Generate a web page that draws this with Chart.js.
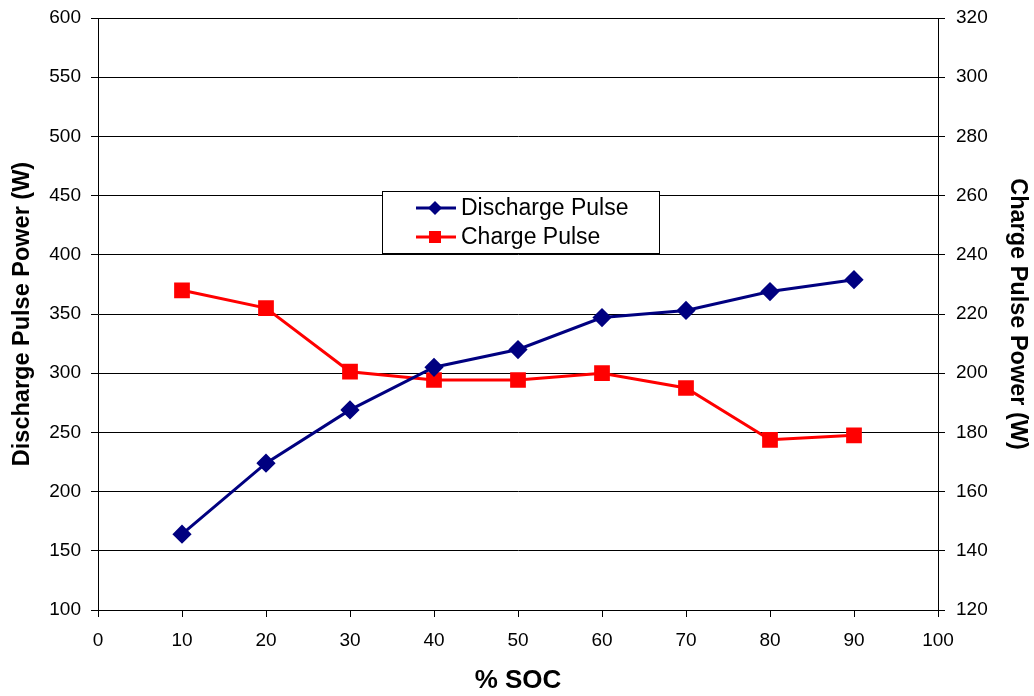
<!DOCTYPE html>
<html>
<head>
<meta charset="utf-8">
<script src="https://cdn.jsdelivr.net/npm/chart.js@4/dist/chart.umd.min.js"></script>
<style>
  html, body { margin: 0; padding: 0; background: #fff; }
  #wrap { width: 1034px; height: 696px; }
</style>
</head>
<body>
<div id="wrap"><canvas id="socChart" width="1034" height="696"></canvas></div>
<script>
'use strict'

const soc = [10, 20, 30, 40, 50, 60, 70, 80, 90];
const dischargePulse = [164, 224, 269, 305, 320, 347, 353, 369, 379];
const chargePulse = [228, 222, 200.5, 197.7, 197.7, 200, 195, 177.5, 179];
const seriesNames = ['Discharge Pulse', 'Charge Pulse'];

const FONT = '"Liberation Sans", Arial, sans-serif';

// legend box drawn inside the plot, like the original
const boxLegend = {
    id: 'boxLegend',
    afterDraw(chart) {
        const ctx = chart.ctx;
        const area = chart.chartArea;
        const x = area.left + 284;
        const y = area.top + 173;
        const w = 277, h = 62;
        ctx.save();
        ctx.fillStyle = '#fff';
        ctx.fillRect(x, y, w, h);
        ctx.strokeStyle = '#000';
        ctx.lineWidth = 1;
        ctx.strokeRect(x + 0.5, y + 0.5, w, h);
        chart.data.datasets.forEach((ds, i) => {
            const cy = y + 17 + i * 29;
            ctx.strokeStyle = ds.borderColor;
            ctx.lineWidth = 3;
            ctx.beginPath();
            ctx.moveTo(x + 34, cy);
            ctx.lineTo(x + 74, cy);
            ctx.stroke();
            ctx.fillStyle = ds.backgroundColor;
            ctx.beginPath();
            if (ds.pointStyle === 'rectRot') {
                ctx.moveTo(x + 53, cy - 7);
                ctx.lineTo(x + 60, cy);
                ctx.lineTo(x + 53, cy + 7);
                ctx.lineTo(x + 46, cy);
            } else {
                ctx.rect(x + 47, cy - 6, 12, 12);
            }
            ctx.fill();
            ctx.fillStyle = '#000';
            ctx.font = '23px ' + FONT;
            ctx.textBaseline = 'middle';
            ctx.fillText(ds.label, x + 79, cy + 1);
        });
        ctx.restore();
    }
};

// fixed axis boxes so the plot area sits where the original one does
function fixY(width) {
    return function (scale) {
        scale.width = width;
        scale.paddingTop = 0;
        scale.paddingBottom = 0;
    };
}

const chart = new Chart(document.getElementById('socChart').getContext('2d'), {
    type: 'line',
    data: {
        datasets: [{
            label: seriesNames[0],
            data: soc.map((s, i) => ({ x: s, y: dischargePulse[i] })),
            borderColor: '#000080',
            backgroundColor: '#000080',
            borderWidth: 3,
            pointStyle: 'rectRot',
            pointRadius: 7.5,
            yAxisID: 'y',
            tension: 0
        },
        {
            label: seriesNames[1],
            data: soc.map((s, i) => ({ x: s, y: chargePulse[i] })),
            borderColor: '#ff0000',
            backgroundColor: '#ff0000',
            borderWidth: 3,
            pointStyle: 'rect',
            pointRadius: 9,
            yAxisID: 'y1',
            tension: 0
        }]
    },
    options: {
        responsive: false,
        animation: false,
        layout: { padding: { top: 18, right: 0, left: 0, bottom: 0 } },
        plugins: {
            legend: { display: false },
            tooltip: { enabled: false }
        },
        scales: {
            x: {
                type: 'linear',
                min: 0,
                max: 100,
                ticks: { stepSize: 10, color: '#000', font: { family: FONT, size: 19 }, padding: 12, maxRotation: 0 },
                grid: { drawOnChartArea: false, color: '#000', tickLength: 7 },
                border: { color: '#000', width: 1 },
                title: { display: true, text: '% SOC', color: '#000', font: { family: FONT, size: 26, weight: 'bold' }, padding: { top: 0, bottom: 0 } },
                afterFit(scale) {
                    scale.height = 86;
                    scale.paddingLeft = 0;
                    scale.paddingRight = 0;
                }
            },
            y: {
                position: 'left',
                min: 100,
                max: 600,
                ticks: { stepSize: 50, color: '#000', font: { family: FONT, size: 19 }, padding: 10 },
                grid: { color: '#000', tickLength: 7 },
                border: { color: '#000', width: 1 },
                title: { display: true, text: 'Discharge Pulse Power (W)', color: '#000', font: { family: FONT, size: 23.5, weight: 'bold' }, padding: { top: 8, bottom: 0 } },
                afterFit: fixY(98)
            },
            y1: {
                position: 'right',
                min: 120,
                max: 320,
                ticks: { stepSize: 20, color: '#000', font: { family: FONT, size: 19 }, padding: 11 },
                grid: { drawOnChartArea: false, color: '#000', tickLength: 7 },
                border: { color: '#000', width: 1 },
                title: { display: true, text: 'Charge Pulse Power (W)', color: '#000', font: { family: FONT, size: 23.5, weight: 'bold' }, padding: { top: 2, bottom: 0 } },
                afterFit: fixY(96)
            }
        }
    },
    plugins: [boxLegend]
});
</script>
</body>
</html>
